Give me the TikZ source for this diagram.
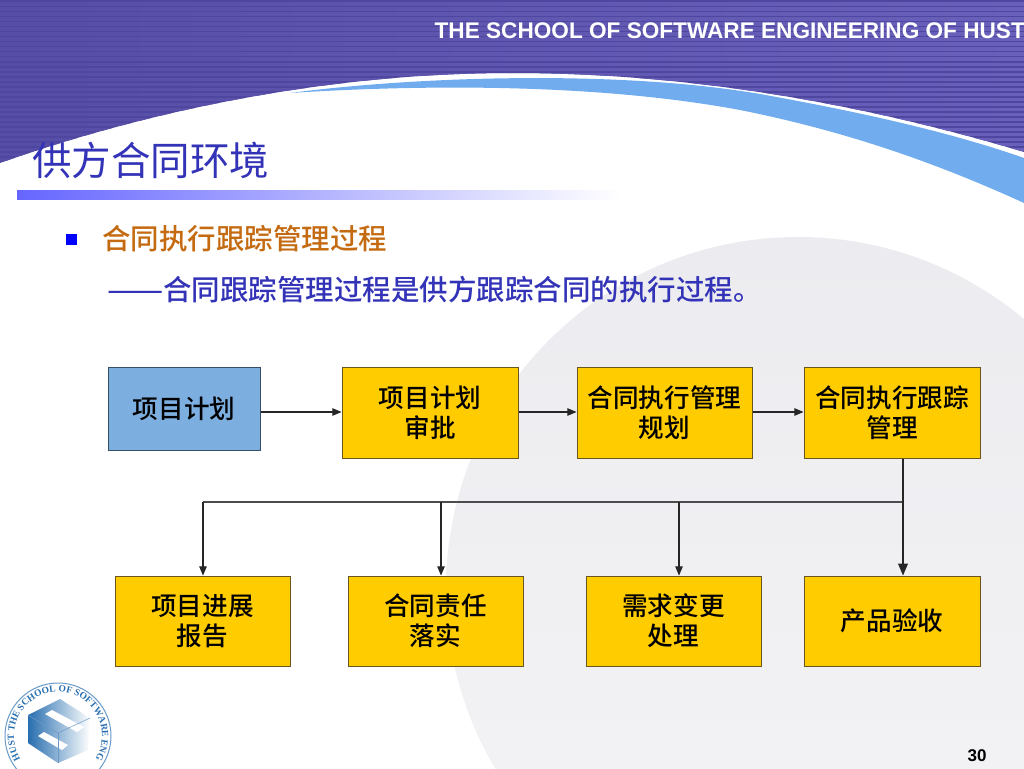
\documentclass[tikz,border=0pt]{standalone}
\usepackage{fontspec}
\setmainfont{Liberation Sans}
\newfontfamily\cjk{Noto Sans CJK SC Medium}
\newfontfamily\cjkthin{Noto Sans CJK SC}
\newfontfamily\logofont{Liberation Serif}
\usetikzlibrary{arrows,shapes,positioning,decorations.text}
\definecolor{stripeA}{RGB}{79,71,159}
\definecolor{stripeB}{RGB}{104,96,186}
\definecolor{swoosh}{RGB}{112,172,238}
\definecolor{discgray}{RGB}{236,235,239}
\definecolor{disclight}{RGB}{244,244,246}
\definecolor{titleblue}{RGB}{51,51,184}
\definecolor{headorange}{RGB}{196,106,16}
\definecolor{boxgold}{RGB}{255,204,0}
\definecolor{boxedge}{RGB}{105,85,30}
\definecolor{boxblue}{RGB}{125,174,224}
\definecolor{logoblue}{RGB}{40,110,175}
\tikzset{
  goldbox/.style={draw=boxedge, fill=boxgold, line width=1pt, align=center, inner sep=0pt,
    font=\cjk\fontsize{25.6}{30}\selectfont},
  flow/.style={draw=black!85, line width=1.1pt, -triangle 45},
  busline/.style={draw=black!70, line width=1.1pt}
}
\begin{document}
\begin{tikzpicture}[x=1pt,y=-1pt]
\useasboundingbox (0,0) rectangle (1024,768);
\shade[top color=discgray, bottom color=disclight] (798,589) circle (352);
\begin{scope}
\clip (0,0) -- (1024,0) -- (1024,152) .. controls (900,115) and (720,73) .. (512,73)
  .. controls (330,73) and (150,110) .. (0,163) -- cycle;
\fill[stripeA] (0,0) rectangle (1024,170);
\foreach \y in {3,8,...,168}
  \shade[left color=stripeA!75!stripeB, right color=stripeB] (0,\y) rectangle (1024,\y+2.5);
\end{scope}
\fill[swoosh] (290,93) .. controls (420,76) and (620,70) .. (760,94)
  .. controls (860,112) and (950,132) .. (1024,158) -- (1024,203)
  .. controls (930,160) and (840,130) .. (740,110) .. controls (600,84) and (430,84) .. (290,93) -- cycle;
\node[anchor=east, inner sep=0pt, text=white, font=\bfseries\fontsize{22.6}{26}\selectfont] (header) at (1025,31) {THE SCHOOL OF SOFTWARE ENGINEERING OF HUST};
\node[anchor=west, inner sep=0pt, text=titleblue, font=\cjkthin\fontsize{39.5}{44}\selectfont] (title) at (32,160) {供方合同环境};
\shade[left color=blue!60, right color=white] (17,190) rectangle (620,199);
\node[fill=blue, minimum size=11pt, inner sep=0pt] (bullet) at (71,239) {};
\node[anchor=west, inner sep=0pt, text=headorange, font=\cjk\fontsize{28.5}{32}\selectfont] (topic) at (102,239) {合同执行跟踪管理过程};
\node[anchor=west, inner sep=0pt, text=titleblue, font=\cjk\fontsize{28.5}{32}\selectfont] (gloss) at (107,290) {\scalebox{1.17}[1]{——}合同跟踪管理过程是供方跟踪合同的执行过程。};
\node[goldbox, draw=black!55!boxblue, fill=boxblue, minimum width=152pt, minimum height=83pt] (plan) at (184,408.5) {\raisebox{-3pt}{项目计划}};
\node[goldbox, minimum width=176pt, minimum height=91pt] (approve) at (430,412.5) {项目计划\\审批};
\node[goldbox, minimum width=175pt, minimum height=91pt] (schedule) at (664.5,412.5) {合同执行管理\\规划};
\node[goldbox, minimum width=176pt, minimum height=91pt] (track) at (892,412.5) {合同执行跟踪\\管理};
\node[goldbox, minimum width=175pt, minimum height=90pt] (report) at (202.5,621) {项目进展\\报告};
\node[goldbox, minimum width=175pt, minimum height=90pt] (duty) at (435.5,621) {合同责任\\落实};
\node[goldbox, minimum width=175pt, minimum height=90pt] (change) at (673.5,621) {需求变更\\处理};
\node[goldbox, minimum width=176pt, minimum height=90pt] (accept) at (892,621) {\raisebox{-3pt}{产品验收}};
\coordinate (trunk) at (903,502);
\coordinate (dropA) at (203,502);
\coordinate (dropB) at (441,502);
\coordinate (dropC) at (679,502);
\draw[flow] (plan.east |- 0,412) -- (approve.west |- 0,412);
\draw[flow] (approve.east |- 0,412) -- (schedule.west |- 0,412);
\draw[flow] (schedule.east |- 0,412) -- (track.west |- 0,412);
\draw[busline] (dropA) -- (trunk);
\draw[flow] (dropA) -- (report.north -| dropA);
\draw[flow] (dropB) -- (duty.north -| dropB);
\draw[flow] (dropC) -- (change.north -| dropC);
\draw[flow, line width=1.8pt] (track.south -| trunk) -- (accept.north -| trunk);
\node[inner sep=0pt, font=\bfseries\fontsize{17}{20}\selectfont] (pageno) at (977,756) {30};
\draw[logoblue!70, line width=1pt] (58,736) circle (53);
\path[decorate, decoration={text along path, text align=center,
  text={|\logofont\bfseries\color{logoblue}\fontsize{9.5}{10}\selectfont|HUST THE SCHOOL OF SOFTWARE ENG}}]
  (24.3,764.3) arc[start angle=140, end angle=400, radius=44];
\shade[left color=logoblue, right color=white] (60,699) -- (90,718) -- (88,750) -- (58,763) -- (28,743) -- (28,715) -- cycle;
\fill[white] (45,714) -- (52,710) -- (84,727) -- (77,732) -- cycle;
\fill[white] (38,736) -- (44,732) -- (68,745) -- (62,750) -- cycle;
\draw[logoblue!70, line width=0.5pt] (28,715) -- (58,733) -- (90,718);
\draw[logoblue!70, line width=0.5pt] (58,733) -- (58,763);
\end{tikzpicture}
\end{document}
